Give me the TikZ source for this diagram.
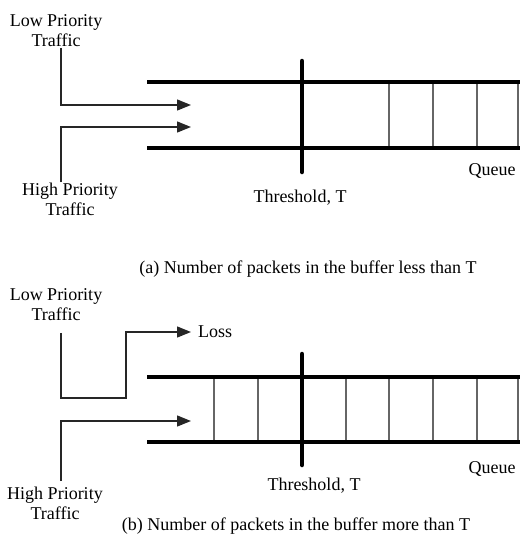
\documentclass[tikz,border=0pt]{standalone}
\usepackage{fontspec}
\setmainfont{Liberation Serif}
\usetikzlibrary{arrows.meta, calc}

\begin{document}
\begin{tikzpicture}[x = 1pt, y = -1pt,
		lbl/.style = {align = center, inner sep = 0, font = \fontsize{18}{20}\selectfont},
		wall/.style = {line width = 4.5pt},
		cell/.style = {gray!80!black, line width = 1.2pt},
		flow/.style = {line width = 1.4pt, black!85, -{Triangle[length = 14pt, width = 11pt]}}]
		\useasboundingbox (0, 0) rectangle (520, 542);
		% Labels a
		\node[lbl, anchor = north] (lowA) at (56, 14.5) {Low Priority\\Traffic};
		\node[lbl, anchor = north] (highA) at (70, 183) {High Priority\\Traffic};
		\node[lbl, anchor = base] (thrA) at (300, 202) {Threshold, T};
		\node[lbl, anchor = base] (queueA) at (492, 175) {Queue};
		\node[lbl, anchor = base] (capA) at (308, 273) {(a) Number of packets in the buffer less than T};
		% Queue a
		\foreach \x in {389, 433, 477, 518} \draw[cell] (\x, 82) -- (\x, 148);
		\draw[wall] (147, 82) -- (520, 82);
		\draw[wall] (147, 148) -- (520, 148);
		\draw[wall, line cap = round] (302, 61) -- (302, 172);
		% Traffic a
		\coordinate (inLowA) at (191, 105);
		\coordinate (inHighA) at (191, 127);
		\draw[flow] ($(lowA.south) + (5, 1)$) |- (inLowA);
		\draw[flow] ($(highA.north) + (-9, -1)$) |- (inHighA);
		% Labels b
		\coordinate (lossB) at (191, 332);
		\node[lbl, anchor = north] (lowB) at (56, 288.5) {Low Priority\\Traffic};
		\node[lbl, anchor = north] (highB) at (55, 487) {High Priority\\Traffic};
		\node[lbl, anchor = west] (loss) at ($(lossB) + (7, 0)$) {Loss};
		\node[lbl, anchor = base] (thrB) at (314, 490) {Threshold, T};
		\node[lbl, anchor = base] (queueB) at (492, 473) {Queue};
		\node[lbl, anchor = base] (capB) at (296, 530) {(b) Number of packets in the buffer more than T};
		% Queue b
		\foreach \x in {214, 258, 346, 389, 433, 477, 518} \draw[cell] (\x, 377) -- (\x, 442);
		\draw[wall] (147, 377) -- (520, 377);
		\draw[wall] (147, 442) -- (520, 442);
		\draw[wall, line cap = round] (302, 354) -- (302, 465);
		% Traffic b
		\coordinate (inHighB) at (191, 421);
		\draw[flow] ($(lowB.south) + (5, 12)$) -- ++(0, 65) -| ($(lossB) + (-65, 0)$) -- (lossB);
		\draw[flow] ($(highB.north) + (6, -6)$) |- (inHighB);
\end{tikzpicture}
\end{document}
